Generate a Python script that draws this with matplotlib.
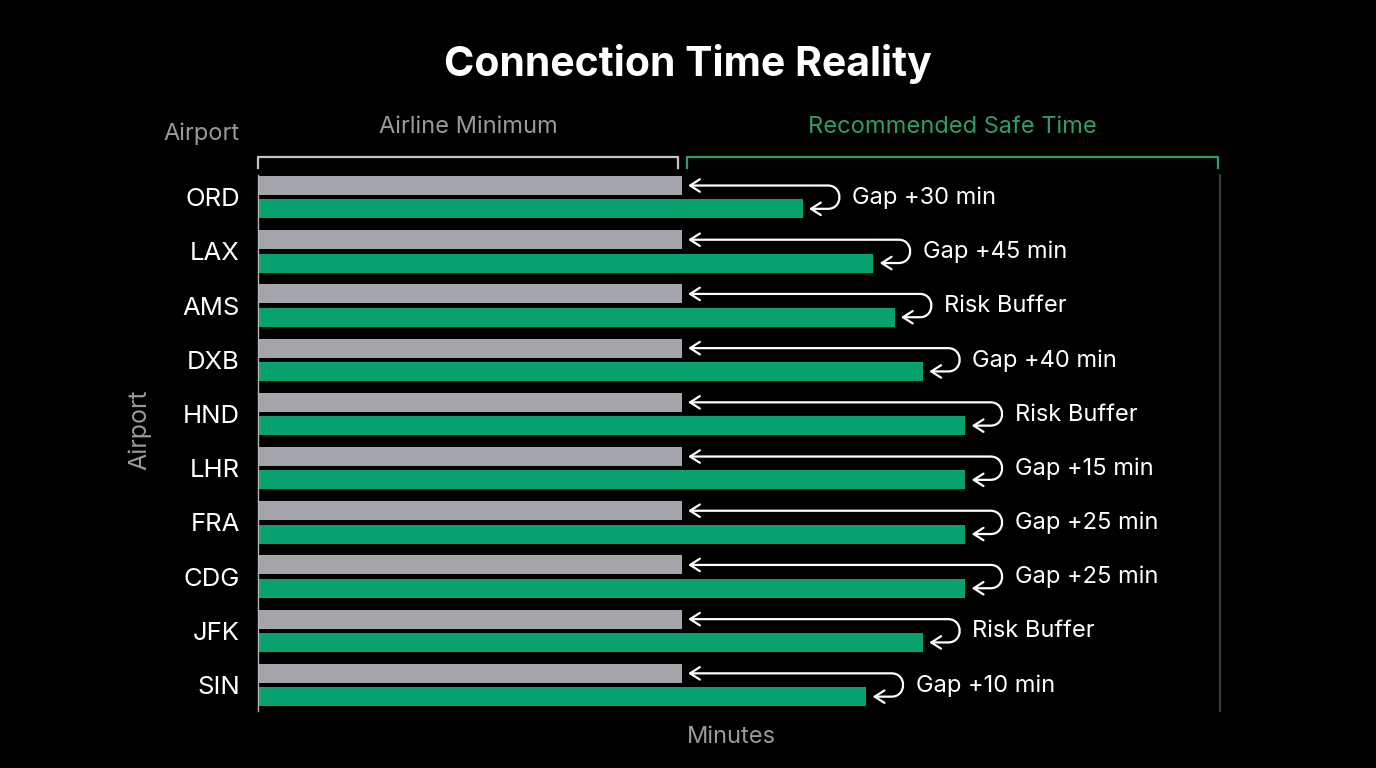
import matplotlib.pyplot as plt
from matplotlib.patches import FancyArrowPatch
from matplotlib.path import Path
import matplotlib.transforms as mtransforms


# =========================================================
# DATA
# =========================================================

airports = ["ORD", "LAX", "AMS", "DXB", "HND", "LHR", "FRA", "CDG", "JFK", "SIN"]
airline_min = [60, 60, 60, 60, 60, 60, 60, 60, 60, 60]
safe_time = [77, 87, 90, 94, 100, 100, 100, 100, 94, 86]
gap_labels = [
    "Gap +30 min", "Gap +45 min", "Risk Buffer", "Gap +40 min", "Risk Buffer",
    "Gap +15 min", "Gap +25 min", "Gap +25 min", "Risk Buffer", "Gap +10 min",
]

# =========================================================
# STYLE
# =========================================================

BG = "#000000"
GRAY_BAR = "#a4a4ab"
GREEN_BAR = "#07a26f"
GREEN_TXT = "#2f9d66"
MUTED = "#9a9a9a"
FS = 17

plt.rcParams["font.family"] = ["Inter", "DejaVu Sans"]

fig = plt.figure(figsize=(13.76, 7.68), dpi=100, facecolor=BG)
ax = fig.add_axes([0.1875, 0.0742, 0.6991, 0.698])
ax.set_facecolor(BG)

y = list(range(len(airports)))
bar_h = 0.35
off = 0.215

ax.barh([v - off for v in y], airline_min, height=bar_h, color=GRAY_BAR)
ax.barh([v + off for v in y], safe_time, height=bar_h, color=GREEN_BAR)

ax.set_xlim(0, 136)
ax.set_ylim(9.48, -0.41)

ax.set_yticks(y)
ax.set_yticklabels(airports, color="white", fontsize=FS + 1.5)
ax.tick_params(axis="y", length=0, pad=13)
ax.set_xticks([])

for side in ["top", "bottom"]:
    ax.spines[side].set_visible(False)
ax.spines["left"].set_color("#b5b5b5")
ax.spines["left"].set_linewidth(1.0)
ax.spines["right"].set_color("#4a4a4a")
ax.spines["right"].set_linewidth(1.2)

# =========================================================
# Gap arrows (U-turn from gray end to green end)
# =========================================================

rx = 1.63
for i, (g, s, lab) in enumerate(zip(airline_min, safe_time, gap_labels)):
    yg = i - off
    yr = i + off
    x0 = s + 5.2 - rx
    verts = [
        (g + 0.8, yg),
        (x0, yg),
        (x0 + 4 / 3 * rx, yg),
        (x0 + 4 / 3 * rx, yr),
        (x0, yr),
        (s + 0.9, yr),
    ]
    codes = [Path.MOVETO, Path.LINETO, Path.CURVE4, Path.CURVE4, Path.CURVE4, Path.LINETO]
    arrow = FancyArrowPatch(
        path=Path(verts, codes),
        arrowstyle="<->,head_length=0.5,head_width=0.32",
        mutation_scale=14,
        color="white",
        lw=1.6,
    )
    ax.add_patch(arrow)
    ax.text(s + 7.0, i + 0.01, lab, color="white", fontsize=FS, va="center", ha="left")

# =========================================================
# Header brackets and labels
# =========================================================

trans = mtransforms.blended_transform_factory(ax.transData, ax.transAxes)

def bracket(x1, x2, color):
    ax.plot([x1, x1, x2, x2], [1.013, 1.0336, 1.0336, 1.013],
            transform=trans, color=color, lw=1.6, clip_on=False)

bracket(0, 59.4, "#c4c4c4")
bracket(60.7, 135.7, GREEN_TXT)

ax.text(29.7, 1.0896, "Airline Minimum", transform=trans, color=MUTED,
        fontsize=FS, ha="center", va="center")
ax.text(98.2, 1.0896, "Recommended Safe Time", transform=trans, color=GREEN_TXT,
        fontsize=FS, ha="center", va="center")
ax.text(-0.0187, 1.0765, "Airport", transform=ax.transAxes, color=MUTED,
        fontsize=FS, ha="right", va="center")
ax.text(-0.1227, 0.524, "Airport", transform=ax.transAxes, color=MUTED,
        fontsize=FS + 1, ha="center", va="center", rotation=90)
ax.text(0.4917, -0.0485, "Minutes", transform=ax.transAxes, color=MUTED,
        fontsize=FS, ha="center", va="center")

fig.text(0.5, 0.917, "Connection Time Reality", color="white", fontsize=29.5,
         fontweight="bold", ha="center", va="center")

fig.savefig("out.png", dpi=100, facecolor=BG)
